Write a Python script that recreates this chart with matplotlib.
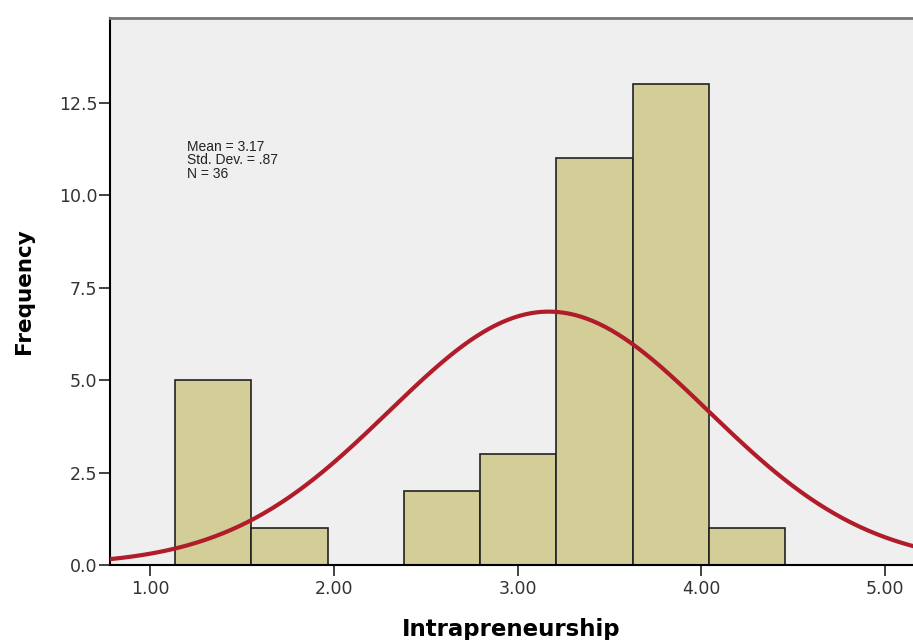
import numpy as np
import matplotlib.pyplot as plt

# histogram data
bin_start = 1.136
bin_width = 0.415
counts = [5, 1, 0, 2, 3, 11, 13, 1]

mean = 3.17
std = 0.87
n = 36

x_ticks = [1.0, 2.0, 3.0, 4.0, 5.0]
x_tick_labels = ["1.00", "2.00", "3.00", "4.00", "5.00"]
y_ticks = [0.0, 2.5, 5.0, 7.5, 10.0, 12.5]
y_tick_labels = ["0.0", "2.5", "5.0", "7.5", "10.0", "12.5"]

plt.rcParams['font.family'] = ['DejaVu Sans']

fig = plt.figure(figsize=(9.13, 6.4), dpi=100)
ax = fig.add_axes([110 / 913, 1 - 565 / 640, 1 - 110 / 913, (565 - 18) / 640])
ax.set_facecolor('#efefef')

lefts = [bin_start + i * bin_width for i in range(len(counts))]
ax.bar(lefts, counts, width=bin_width, align='edge', color='#d3ce98',
       edgecolor='#222222', linewidth=1.2, zorder=2)

# fitted normal curve (scaled to counts)
xs = np.linspace(0.7, 5.3, 400)
ys = n * bin_width / (std * np.sqrt(2 * np.pi)) * np.exp(-0.5 * ((xs - mean) / std) ** 2)
ax.plot(xs, ys, color='#b01c2a', linewidth=3, zorder=3)

ax.set_xlim(0.782, 5.152)
ax.set_ylim(0, 14.79)
ax.set_xticks(x_ticks)
ax.set_xticklabels(x_tick_labels, fontsize=12.5, color='#333333')
ax.set_yticks(y_ticks)
ax.set_yticklabels(y_tick_labels, fontsize=12.5, color='#333333')
ax.tick_params(axis='both', direction='out', length=8, width=1.2, colors='#222222')
ax.tick_params(axis='x', pad=3, labelcolor='#333333')
ax.tick_params(axis='y', pad=1, labelcolor='#333333')

ax.spines['right'].set_visible(False)
ax.spines['left'].set_linewidth(1.5)
ax.spines['bottom'].set_linewidth(1.5)
ax.spines['top'].set_linewidth(2)
ax.spines['top'].set_color('#777777')

ax.set_xlabel('Intrapreneurship', fontsize=16.5, fontweight='bold', labelpad=14)
ax.set_ylabel('Frequency', fontsize=15.5, fontweight='bold', labelpad=18)

ax.text(1.2, 11.5, "Mean = 3.17\nStd. Dev. = .87\nN = 36", fontsize=10,
        family='Liberation Sans', va='top', ha='left', linespacing=0.95,
        color='#222222')

fig.savefig('out.png', dpi=100)
